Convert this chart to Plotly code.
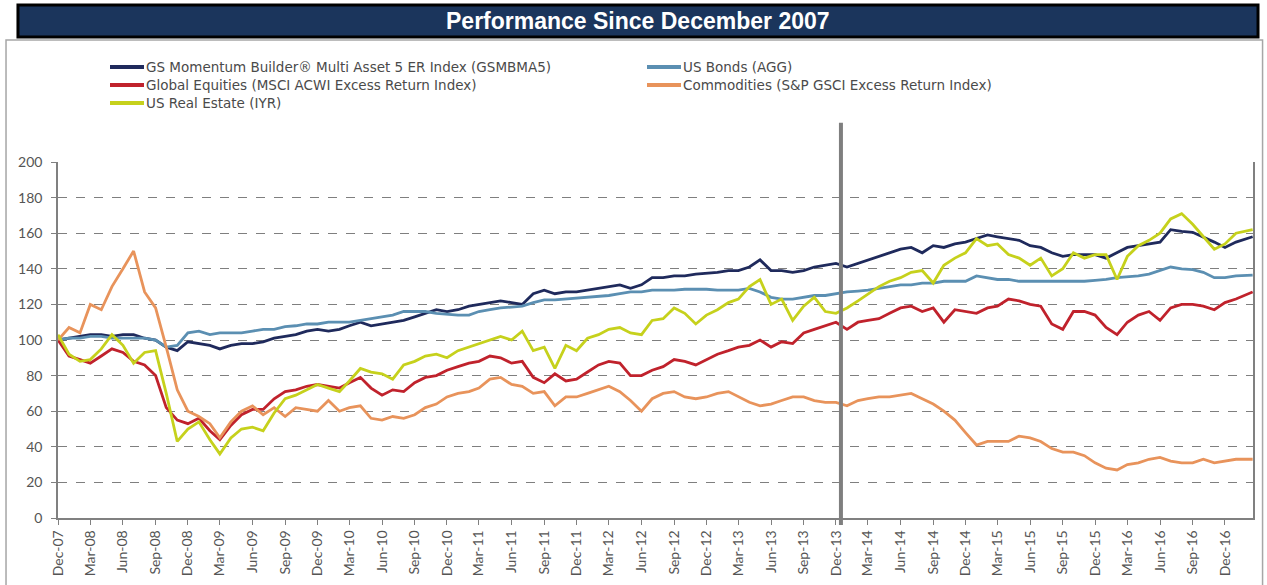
import pandas as pd
import plotly.graph_objects as go

# month-start dates Dec-07 .. Jan-17, plus the last observation in Feb-17
dates = list(pd.date_range("2007-12-01", periods=110, freq="MS")) + [pd.Timestamp("2017-02-17")]

gs_momentum = [
    100, 101, 102, 103, 103, 102, 103, 103, 101, 100, 96, 94,
    99, 98, 97, 95, 97, 98, 98, 99, 101, 102, 103, 105,
    106, 105, 106, 108, 110, 108, 109, 110, 111, 113, 115, 117,
    116, 117, 119, 120, 121, 122, 121, 120, 126, 128, 126, 127,
    127, 128, 129, 130, 131, 129, 131, 135, 135, 136, 136, 137,
    137.5, 138, 139, 139, 141, 145, 139, 139, 138, 139, 141, 142,
    143, 141, 143, 145, 147, 149, 151, 152, 149, 153, 152, 154,
    155, 157, 159, 158, 157, 156, 153, 152, 149, 147, 148, 148,
    148, 146, 149, 152, 153, 154, 155, 162, 161, 160.5, 158, 155,
    152, 155, 158,
]
us_bonds = [
    100, 101, 101, 102, 102, 101, 101, 101, 101, 100, 96, 97,
    104, 105, 103, 104, 104, 104, 105, 106, 106, 107.5, 108, 109,
    109, 110, 110, 110, 111, 112, 113, 114, 116, 116, 116, 115,
    114.5, 114, 114, 116, 117, 118, 118.5, 119, 121, 122.5, 122.5, 123,
    123.5, 124, 124.5, 125, 126, 127, 127, 128, 128, 128, 128.5, 128.5,
    128.5, 128, 128, 128, 129, 127, 124, 123, 123, 124, 125, 125,
    126, 127, 127.5, 128, 129, 130, 131, 131, 132, 132, 133, 133,
    133, 136, 135, 134, 134, 133, 133, 133, 133, 133, 133, 133,
    133.5, 134, 135, 135.5, 136, 137, 139, 141, 140, 139.5, 138, 135,
    135, 136, 136.5,
]
global_equities = [
    100, 91, 89, 87, 91, 95, 93, 88, 86, 80, 62, 55,
    53, 56, 49, 44, 52, 58, 61, 61, 67, 71, 72, 74,
    75, 74, 73, 76, 79, 73, 69, 72, 71, 76, 79, 80,
    83, 85, 87, 88, 91, 90, 87, 88, 79, 76, 81, 77,
    78, 82, 86, 88, 87, 80, 80, 83, 85, 89, 88, 86,
    89, 92, 94, 96, 97, 100, 96, 99, 98, 104, 106, 108,
    110, 106, 110, 111, 112, 115, 118, 119, 116, 118, 110, 117,
    116, 115, 118, 119, 123, 122, 120, 119, 109, 106, 116, 116,
    114, 107, 103, 110, 114, 116, 111, 118, 120, 120, 119, 117,
    121, 123, 127,
]
commodities = [
    100, 107, 104, 120, 117, 130, 140, 150, 127, 118, 96, 72,
    60, 57, 53, 45, 54, 60, 63, 58, 62, 57, 62, 61,
    60, 66, 60, 62, 63, 56, 55, 57, 56, 58, 62, 64,
    68, 70, 71, 73, 78, 79, 75, 74, 70, 71, 63, 68,
    68, 70, 72, 74, 71, 66, 60, 67, 70, 71, 68, 67,
    68, 70, 71, 68, 65, 63, 64, 66, 68, 68, 66, 65,
    65, 63, 66, 67, 68, 68, 69, 70, 67, 64, 60, 55,
    48, 41, 43, 43, 43, 46, 45, 43, 39, 37, 37, 35,
    31, 28, 27, 30, 31, 33, 34, 32, 31, 31, 33, 31,
    32, 33, 33,
]
us_real_estate = [
    103, 92, 88, 89, 95, 103, 97, 87, 93, 94, 70, 43,
    50, 54, 44, 36, 45, 50, 51, 49, 59, 67, 69, 72,
    75, 73, 71, 77, 84, 82, 81, 78, 86, 88, 91, 92,
    90, 94, 96, 98, 100, 102, 100, 105, 94, 96, 84, 97,
    94, 101, 103, 106, 107, 104, 103, 111, 112, 118, 115, 109,
    114, 117, 121, 123, 130, 134, 120, 123, 111, 119, 124, 116,
    115, 118, 122, 126, 130, 133, 135, 138, 139, 132, 142, 146,
    149, 157, 153, 154, 148, 146, 142, 146, 136, 140, 149, 146,
    148, 148, 134, 147, 153, 156, 160, 168, 171, 165, 158, 151,
    154, 160, 162,
]

series = [
    ("GS Momentum Builder\u00ae Multi Asset 5 ER Index (GSMBMA5)", gs_momentum, "#1f2a5c"),
    ("US Bonds (AGG)", us_bonds, "#5b8fb2"),
    ("Global Equities (MSCI ACWI Excess Return Index)", global_equities, "#c0222c"),
    ("Commodities (S&P GSCI Excess Return Index)", commodities, "#e8935b"),
    ("US Real Estate (IYR)", us_real_estate, "#c6d11c"),
]

fig = go.Figure()
for name, values, color in series:
    fig.add_trace(go.Scatter(x=dates, y=values, name=name, mode="lines",
                             line=dict(color=color, width=2.8), showlegend=False))

# two-column legend drawn in paper space (plot area: 58..1253 px wide, 162..518 px tall)
def px_x(p):
    return (p - 58) / 1195.0

def px_y(p):
    return (518 - p) / 356.0

legend_shapes = []
legend_notes = []
for i, (name, _, color) in enumerate(series):
    col, row = i % 2, i // 2
    x_start = 110 if col == 0 else 647
    y_mid = 67 + 18 * row
    legend_shapes.append(dict(type="line", xref="paper", yref="paper",
                              x0=px_x(x_start), x1=px_x(x_start + 34),
                              y0=px_y(y_mid), y1=px_y(y_mid),
                              line=dict(color=color, width=4)))
    legend_notes.append(dict(text=name, xref="paper", yref="paper",
                             x=px_x(x_start + 34), y=px_y(y_mid),
                             xanchor="left", yanchor="middle", showarrow=False,
                             font=dict(family="DejaVu Sans, sans-serif", size=13.5,
                                       color="#4a4a4a")))

tick_font = dict(family="Lato, Open Sans, sans-serif", size=14, color="#555555")

fig.update_layout(
    width=1267, height=585,
    margin=dict(l=58, r=14, t=162, b=67, autoexpand=False),
    paper_bgcolor="white", plot_bgcolor="white",
    xaxis=dict(type="date", range=["2007-12-01", "2017-02-18"],
               tick0="2007-12-01", dtick="M3", tickformat="%b-%y", tickangle=-90,
               ticks="outside", ticklen=5, tickcolor="#808080",
               showgrid=False, showline=True, linecolor="#808080", linewidth=1.5,
               tickfont=tick_font),
    yaxis=dict(range=[0, 200], dtick=20, ticks="outside", ticklen=5, tickcolor="#808080",
               ticklabelstandoff=6,
               showgrid=True, gridcolor="#7f7f7f", griddash="dash", gridwidth=1,
               showline=True, linecolor="#808080", linewidth=1.5, mirror=True,
               zeroline=False, tickfont=tick_font),
    shapes=[
        # outer chart frame
        dict(type="rect", xref="paper", yref="paper",
             x0=-0.0435, x1=1.008, y0=-0.2, y1=1.3427,
             line=dict(color="#a6a6a6", width=1.5), fillcolor="rgba(0,0,0,0)", layer="below"),
        # title bar
        dict(type="rect", xref="paper", yref="paper",
             x0=-0.0335, x1=1.0042, y0=1.351, y1=1.441,
             line=dict(color="#000000", width=3), fillcolor="#1b355c"),
        # Dec-13 marker
        dict(type="line", xref="x", yref="paper",
             x0="2013-12-15", x1="2013-12-15", y0=-0.02, y1=1.11,
             line=dict(color="#7f7f7f", width=4)),
    ] + legend_shapes,
    annotations=[
        dict(text="<b>Performance Since December 2007</b>", xref="paper", yref="paper",
             x=0.485, y=1.396, xanchor="center", yanchor="middle", showarrow=False,
             font=dict(family="Liberation Sans, Arial, sans-serif", size=23, color="white")),
    ] + legend_notes,
)

# drop the page's default body margin so the figure sits at the window origin
fig.write_html("out.html", config={"displayModeBar": False},
               post_script="document.body.style.margin='0px';")
